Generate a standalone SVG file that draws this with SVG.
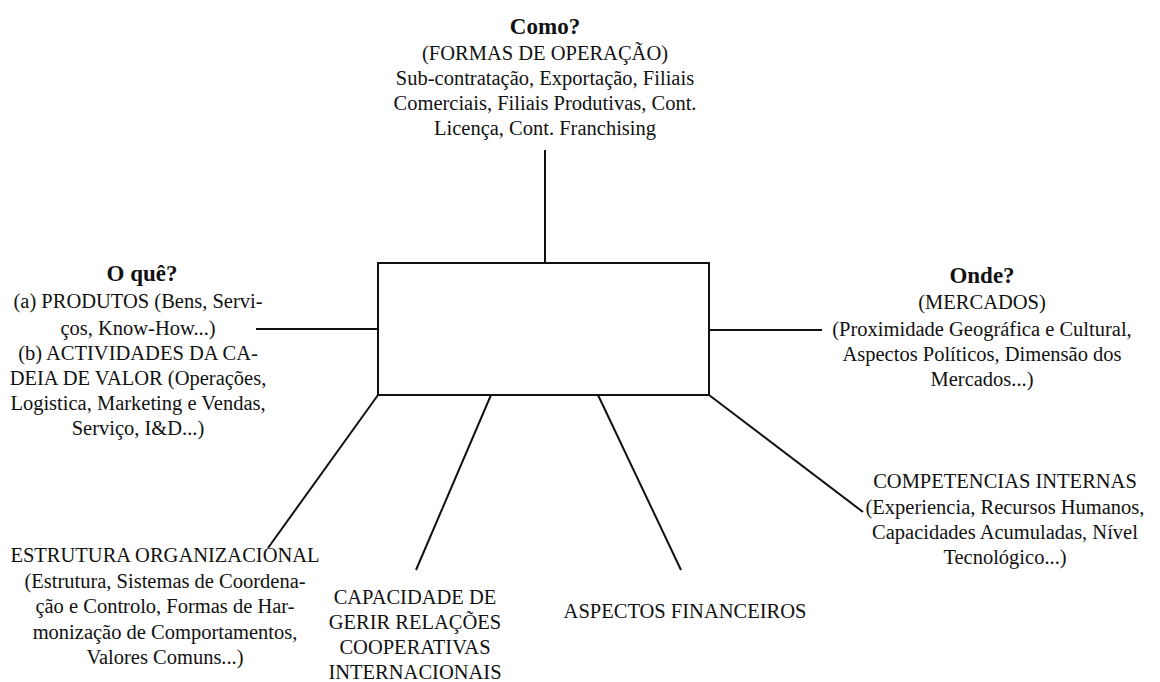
<svg xmlns="http://www.w3.org/2000/svg" width="1160" height="682" viewBox="0 0 1160 682">
<style>
text{font-family:"Liberation Serif","Times New Roman",serif;font-size:20.5px;fill:#111;text-anchor:middle}
.h{font-weight:bold;font-size:23px}
.ln{stroke:#111;stroke-width:2;fill:none}
</style>
<rect width="1160" height="682" fill="#fff"/>
<g id="connectors">
<line class="ln" x1="545" y1="150" x2="545" y2="263"/>
<line class="ln" x1="256" y1="329" x2="378" y2="329"/>
<line class="ln" x1="709" y1="330" x2="822" y2="330"/>
<line class="ln" x1="378" y1="395" x2="268" y2="548"/>
<line class="ln" x1="491" y1="395" x2="416" y2="570"/>
<line class="ln" x1="598" y1="395" x2="681" y2="570"/>
<line class="ln" x1="709" y1="395" x2="863" y2="512"/>
</g>
<g id="center"><rect class="ln" x="378" y="263" width="331" height="132"/></g>
<g id="como">
<text class="h" x="545" y="34">Como?</text>
<text x="545" y="60">(FORMAS DE OPERAÇÃO)</text>
<text x="545" y="85">Sub-contratação, Exportação, Filiais</text>
<text x="545" y="110">Comerciais, Filiais Produtivas, Cont.</text>
<text x="545" y="135">Licença, Cont. Franchising</text>
</g>
<g id="oque">
<text class="h" x="142" y="281">O quê?</text>
<text x="138" y="308">(a) PRODUTOS (Bens, Servi-</text>
<text x="138" y="335">ços, Know-How...)</text>
<text x="138" y="360">(b) ACTIVIDADES DA CA-</text>
<text x="138" y="385">DEIA DE VALOR (Operações,</text>
<text x="138" y="410">Logistica, Marketing e Vendas,</text>
<text x="138" y="435">Serviço, I&amp;D...)</text>
</g>
<g id="onde">
<text class="h" x="982" y="283">Onde?</text>
<text x="982" y="309">(MERCADOS)</text>
<text x="982" y="336">(Proximidade Geográfica e Cultural,</text>
<text x="982" y="361">Aspectos Políticos, Dimensão dos</text>
<text x="982" y="386">Mercados...)</text>
</g>
<g id="competencias">
<text x="1005" y="488">COMPETENCIAS INTERNAS</text>
<text x="1005" y="514">(Experiencia, Recursos Humanos,</text>
<text x="1005" y="539">Capacidades Acumuladas, Nível</text>
<text x="1005" y="564">Tecnológico...)</text>
</g>
<g id="estrutura">
<text x="165" y="562">ESTRUTURA ORGANIZACIONAL</text>
<text x="165" y="588">(Estrutura, Sistemas de Coordena-</text>
<text x="165" y="613">ção e Controlo, Formas de Har-</text>
<text x="165" y="639">monização de Comportamentos,</text>
<text x="165" y="664">Valores Comuns...)</text>
</g>
<g id="capacidade">
<text x="415" y="604">CAPACIDADE DE</text>
<text x="415" y="629">GERIR RELAÇÕES</text>
<text x="415" y="654">COOPERATIVAS</text>
<text x="415" y="679">INTERNACIONAIS</text>
</g>
<g id="aspectos">
<text x="685" y="618">ASPECTOS FINANCEIROS</text>
</g>
</svg>
